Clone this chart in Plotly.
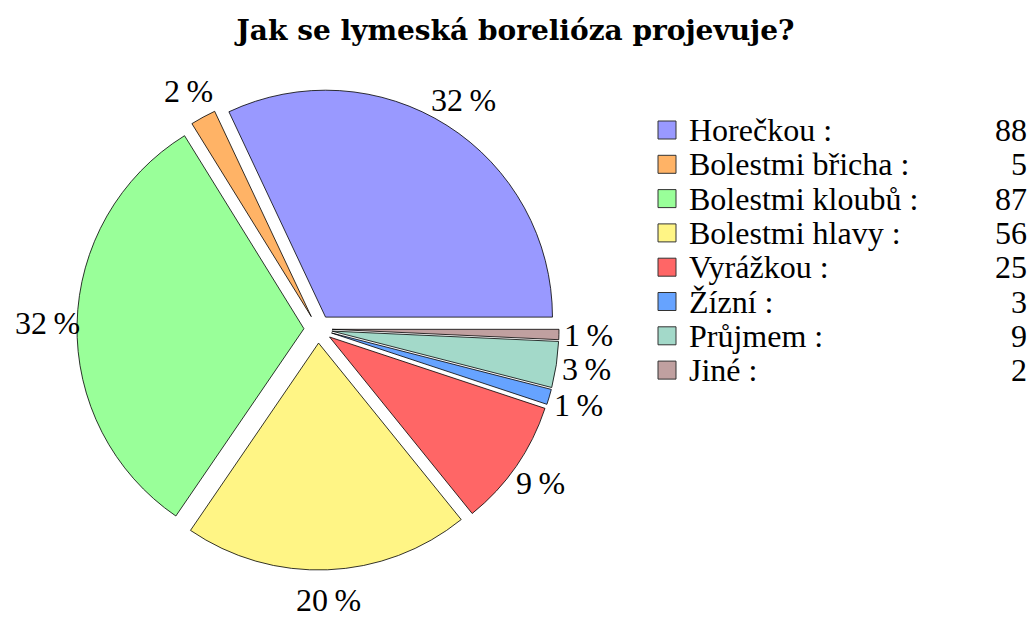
import math
import plotly.graph_objects as go

title = "Jak se lymeská borelióza projevuje?"
categories = ["Horečkou", "Bolestmi břicha", "Bolestmi kloubů", "Bolestmi hlavy",
              "Vyrážkou", "Žízní", "Průjmem", "Jiné"]
values = [88, 5, 87, 56, 25, 3, 9, 2]
colors = ["#9999ff", "#ffb366", "#99ff99", "#fff585", "#ff6666", "#66a3ff", "#a3d9c9", "#c0a0a0"]

W, H = 1031, 617
total = sum(values)
pct_text = [f"{round(100 * v / total)}\u2009%" for v in values]

FONT = "Liberation Serif"
FS = 32
pull = 0.062
cx, cy, ext = 318, 329, 241  # pie center and outer extent (px)
label_r = 271                # distance of percentage labels from pie center (px)

# first slice begins at 3 o'clock and runs counterclockwise
rotation = 90 - 360 * values[0] / total

fig = go.Figure()
fig.add_trace(go.Pie(
    labels=categories, values=values,
    textinfo="none",
    marker=dict(colors=colors, line=dict(color="black", width=0.8)),
    sort=False, direction="counterclockwise", rotation=rotation,
    pull=[pull] * len(values),
    domain=dict(x=[(cx - ext) / W, (cx + ext) / W],
                y=[1 - (cy + ext) / H, 1 - (cy - ext) / H]),
    automargin=False, showlegend=False, hoverinfo="label+value+percent",
))

shapes, annotations = [], []

# percentage labels placed radially at the middle angle of each slice
cum = 0
for v, t in zip(values, pct_text):
    mid = math.radians(360 * (cum + v / 2) / total)
    cum += v
    px = cx + label_r * math.cos(mid)
    py = cy - label_r * math.sin(mid)
    annotations.append(dict(x=px / W, y=1 - py / H, xref="paper", yref="paper",
                            text=t, showarrow=False, xanchor="center", yanchor="middle",
                            height=24, valign="middle",
                            font=dict(family=FONT, size=FS, color="black")))

# custom legend built from the data lists
row0, step, sw = 130, 34.3, 18
sx0 = 658
for i, (c, v, col) in enumerate(zip(categories, values, colors)):
    yc = row0 + i * step
    shapes.append(dict(type="rect", xref="paper", yref="paper",
                       x0=sx0 / W, x1=(sx0 + sw) / W,
                       y0=1 - (yc + sw / 2) / H, y1=1 - (yc - sw / 2) / H,
                       fillcolor=col, line=dict(color="#333333", width=1)))
    annotations.append(dict(x=687 / W, y=1 - yc / H, xref="paper", yref="paper",
                            text=f"{c} :", showarrow=False, xanchor="left", yanchor="middle",
                            font=dict(family=FONT, size=FS, color="black")))
    annotations.append(dict(x=1029 / W, y=1 - yc / H, xref="paper", yref="paper",
                            text=str(v), showarrow=False, xanchor="right", yanchor="middle",
                            font=dict(family=FONT, size=FS, color="black")))

fig.update_layout(
    width=W, height=H,
    margin=dict(l=0, r=0, t=0, b=0),
    paper_bgcolor="white", plot_bgcolor="white",
    title=dict(text=f"<b>{title}</b>", x=0.5, xanchor="center",
               y=1 - 30 / H, yanchor="middle", yref="paper",
               font=dict(family="DejaVu Serif", size=28, color="black")),
    shapes=shapes, annotations=annotations,
)

fig.write_html("out.html", config={"displayModeBar": False},
               post_script="document.body.style.margin='0';document.body.style.overflow='hidden';")
